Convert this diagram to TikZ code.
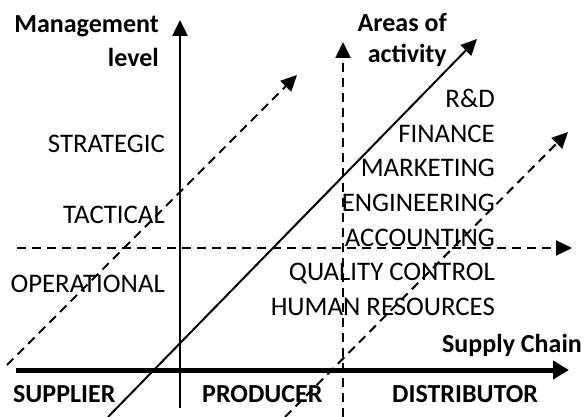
\documentclass[tikz,border=0pt]{standalone}
\usepackage{fontspec}
\setmainfont{Carlito}
\usetikzlibrary{arrows.meta}
\begin{document}
\begin{tikzpicture}[x=1pt,y=-1pt,
  lbl/.style={inner sep=0pt,font=\fontsize{26.8}{34.4}\selectfont},
  head/.style={inner sep=0pt,font=\fontsize{26}{34}\selectfont\bfseries},
  arrowend/.style={-{Triangle[length=16pt,width=15pt]}},
  thinline/.style={line width=2pt},
  dashline/.style={thinline,dash pattern=on 9pt off 6pt}]
\useasboundingbox (0,0) rectangle (584,417);

% axis end points
\coordinate (vA) at (180,408);  \coordinate (vB) at (180,20);
\coordinate (hA) at (16,370);   \coordinate (hB) at (569,370);
\coordinate (hdA) at (17,248);  \coordinate (hdB) at (572,248);
\coordinate (vdA) at (343,417); \coordinate (vdB) at (343,42);
\coordinate (dA) at (108,417);  \coordinate (dB) at (477,39);
\coordinate (lA) at (7,365);    \coordinate (lB) at (297,75);
\coordinate (rA) at (285,417);  \coordinate (rB) at (568,132);

% labels
\node[head,anchor=base east] (mgmt) at (159,33) {Management};
\node[head,anchor=base east] (lev) at (159,67) {level};
\node[head,anchor=base east] (areas) at (447,32) {Areas of};
\node[head,anchor=base east] (act) at (447,63) {activity};
\node[head,anchor=base east] (sc) at (582,352) {Supply Chain};
\node[head,anchor=base west] (sup) at (13,402) {SUPPLIER};
\node[head,anchor=base west] (prod) at (202,402) {PRODUCER};
\node[head,anchor=base west] (dist) at (392,402) {DISTRIBUTOR};

\node[lbl,anchor=base east] (strat) at (165,153) {STRATEGIC};
\node[lbl,anchor=base east] (tact) at (165,223) {TACTICAL};
\node[lbl,anchor=base east] (oper) at (165,292) {OPERATIONAL};

\node[lbl,anchor=base east] (rd) at (495,108) {R\&D};
\node[lbl,anchor=base east] (fin) at (495,142.5) {FINANCE};
\node[lbl,anchor=base east] (mkt) at (495,177) {MARKETING};
\node[lbl,anchor=base east] (eng) at (495,211.5) {ENGINEERING};
\node[lbl,anchor=base east] (acc) at (495,246) {ACCOUNTING};
\node[lbl,anchor=base east] (qc) at (495,280.5) {QUALITY CONTROL};
\node[lbl,anchor=base east] (hr) at (495,315) {HUMAN RESOURCES};

% axes and guides
\draw[arrowend,line width=2.5pt] (vA) -- (vB);
\draw[-{Triangle[length=16pt,width=18pt]},line width=5pt] (hA) -- (hB);
\draw[arrowend,dashline] (hdA) -- (hdB);
\draw[arrowend,dashline] (vdA) -- (vdB);
\draw[arrowend,thinline] (dA) -- (dB);
\draw[arrowend,dashline] (lA) -- (lB);
\draw[arrowend,dashline] (rA) -- (rB);
\end{tikzpicture}
\end{document}
